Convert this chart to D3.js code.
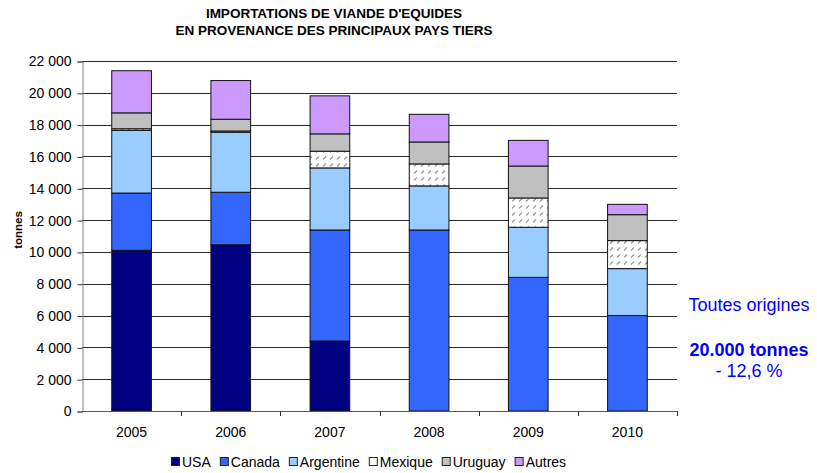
<!DOCTYPE html>
<html>
<head>
<meta charset="utf-8">
<script src="https://cdn.jsdelivr.net/npm/d3@7"></script>
<style>
  html, body { margin: 0; padding: 0; background: #fff; }
  svg { display: block; font-family: "Liberation Sans", Arial, sans-serif; }
</style>
</head>
<body>
<svg id="chart" width="817" height="473"></svg>
<script>
// ---- Data ----
const years = ["2005", "2006", "2007", "2008", "2009", "2010"];
const seriesNames = ["USA", "Canada", "Argentine", "Mexique", "Uruguay", "Autres"];
const usa       = [10100, 10450, 4400, 0, 0, 0];
const canada    = [3600, 3300, 6980, 11380, 8400, 6000];
const argentine = [3940, 3770, 3900, 2770, 3150, 2950];
const mexique   = [100, 80, 1050, 1380, 1840, 1760];
const uruguay   = [1000, 740, 1090, 1380, 2010, 1630];
const autres    = [2650, 2430, 2390, 1740, 1610, 650];
const yTicks = [0, 2000, 4000, 6000, 8000, 10000, 12000, 14000, 16000, 18000, 20000, 22000];
const titleLines = ["IMPORTATIONS DE VIANDE D'EQUIDES", "EN PROVENANCE DES PRINCIPAUX PAYS TIERS"];
const noteLines = ["Toutes origines", "20.000 tonnes", "- 12,6 %"];

(function () {
// ---- Build table ----
const seriesValues = [usa, canada, argentine, mexique, uruguay, autres];
const table = years.map((yr, i) => {
  const row = { year: yr };
  seriesNames.forEach((s, k) => row[s] = seriesValues[k][i]);
  return row;
});
const colors = {
  "USA": "#000080", "Canada": "#3366FF", "Argentine": "#99CCFF",
  "Mexique": "url(#hatch)", "Uruguay": "#C0C0C0", "Autres": "#CC99FF"
};

const svg = d3.select("#chart");
const defs = svg.append("defs");
const pat = defs.append("pattern").attr("id", "hatch")
  .attr("patternUnits", "userSpaceOnUse").attr("width", 7).attr("height", 7);
pat.append("rect").attr("width", 7).attr("height", 7).attr("fill", "#fff");
pat.append("path").attr("d", "M1,5.5 L4,2.5").attr("stroke", "#9a9a9a").attr("stroke-width", 1.3);

const pLeft = 82, pRight = 677, pTop = 61, pBottom = 411;
const x = d3.scaleBand().domain(years).range([pLeft, pRight]).paddingInner(0.6).paddingOuter(0.3);
const y = d3.scaleLinear().domain([0, 22000]).range([pBottom, pTop]);

// Gridlines
svg.append("g").selectAll("line").data(yTicks.filter(d => d > 0)).join("line")
  .attr("x1", pLeft).attr("x2", pRight)
  .attr("y1", d => Math.round(y(d)) + 0.5).attr("y2", d => Math.round(y(d)) + 0.5)
  .attr("stroke", "#2a2a2a").attr("stroke-width", 1);

// Y axis
const fmt = d => d3.format(",")(d).replace(/,/g, " ");
const yAxis = svg.append("g").attr("transform", `translate(${pLeft + 0.5},0.5)`)
  .call(d3.axisLeft(y).tickValues(yTicks).tickFormat(fmt).tickSize(5).tickPadding(6));
yAxis.select(".domain").attr("stroke", "#808080");
yAxis.selectAll(".tick line").attr("stroke", "#333");
yAxis.selectAll("text").attr("font-size", 14).attr("fill", "#000")
  .attr("font-family", "Liberation Sans, Arial, sans-serif");

// Stacked bars
const stack = d3.stack().keys(seriesNames);
const layers = stack(table);
svg.append("g").selectAll("g").data(layers).join("g")
  .attr("fill", d => colors[d.key])
  .selectAll("rect").data(d => d).join("rect")
  .attr("x", d => x(d.data.year))
  .attr("y", d => y(d[1]))
  .attr("width", x.bandwidth())
  .attr("height", d => Math.max(0, y(d[0]) - y(d[1])))
  .attr("stroke", "#111").attr("stroke-width", 1);

// X axis
const step = x.step();
const xAxisG = svg.append("g");
xAxisG.append("line").attr("x1", pLeft).attr("x2", pRight)
  .attr("y1", pBottom + 0.5).attr("y2", pBottom + 0.5).attr("stroke", "#555");
xAxisG.selectAll("line.tk").data(d3.range(1, years.length + 1)).join("line").attr("class", "tk")
  .attr("x1", i => Math.round(pLeft + i * step) + 0.5).attr("x2", i => Math.round(pLeft + i * step) + 0.5)
  .attr("y1", pBottom).attr("y2", pBottom + 5).attr("stroke", "#333");
xAxisG.selectAll("text").data(years).join("text")
  .attr("x", d => x(d) + x.bandwidth() / 2).attr("y", 437)
  .attr("text-anchor", "middle").attr("font-size", 14).text(d => d);

// Y title
svg.append("text").attr("transform", "translate(22,230) rotate(-90)")
  .attr("text-anchor", "middle").attr("font-size", 11.5).attr("font-weight", "bold").text("tonnes");

// Title
svg.selectAll("text.title").data(titleLines).join("text").attr("class", "title")
  .attr("x", 334).attr("y", (d, i) => 17.5 + i * 17.5)
  .attr("text-anchor", "middle").attr("font-size", 13.5).attr("font-weight", "bold").text(d => d);

// Note
const noteY = [311, 356, 377];
svg.selectAll("text.note").data(noteLines).join("text").attr("class", "note")
  .attr("x", 749).attr("y", (d, i) => noteY[i])
  .attr("text-anchor", "middle").attr("font-size", 18).attr("fill", "#0000FF")
  .attr("font-weight", (d, i) => i === 1 ? "bold" : "normal").text(d => d);

// Legend
const legend = svg.append("g");
let lx = 0;
seriesNames.forEach((name) => {
  const g = legend.append("g").attr("transform", `translate(${lx},0)`);
  g.append("rect").attr("x", 0.5).attr("y", 457.5).attr("width", 8).attr("height", 8)
    .attr("fill", name === "Mexique" ? "#fff" : colors[name]).attr("stroke", "#222");
  const t = g.append("text").attr("x", 11).attr("y", 467).attr("font-size", 14).text(name);
  lx += 11 + t.node().getComputedTextLength() + 9;
});
const legendWidth = lx - 9;
legend.attr("transform", `translate(${Math.round(368.5 - legendWidth / 2)},0)`);
})();
</script>
</body>
</html>
